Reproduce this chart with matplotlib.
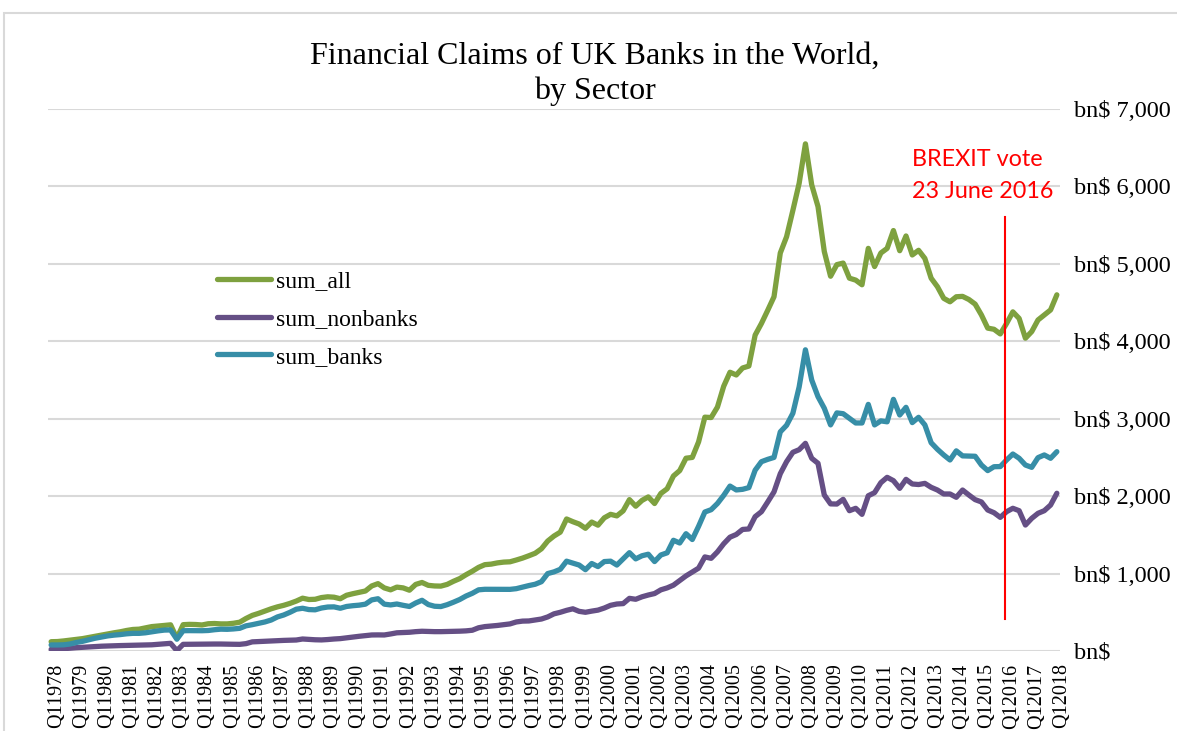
import matplotlib
matplotlib.use("Agg")
import matplotlib.pyplot as plt
import matplotlib.transforms as mtransforms
from matplotlib.patches import Rectangle
import numpy as np

# ---------------- data (bn$, quarterly Q1 1978 .. Q1 2018) ----------------
years = list(range(1978, 2019))
quarters = [f"Q{q}{y}" for y in range(1978, 2018) for q in (1, 2, 3, 4)] + ["Q12018"]
tick_labels = [f"Q1{y}" for y in years]

sum_all = [
    120, 122, 130, 140,      150, 160, 175, 190,      205, 220, 235, 248,      265, 278, 282, 298,
    315, 322, 330, 338,      165, 340, 344, 342,      336, 352, 355, 350,      350, 358, 372, 420,
    460, 486, 515, 545,      570, 590, 615, 645,      682, 665, 668, 690,      700, 695, 675, 720,
    740, 758, 775, 840,      870, 815, 790, 825,      815, 785, 860, 885,      848, 840, 838, 860,
    900, 935, 985, 1030,     1080, 1115, 1122, 1138,  1148, 1152, 1175, 1200,  1230, 1262, 1320, 1420,
    1485, 1535, 1705, 1670,  1640, 1585, 1665, 1625,  1720, 1765, 1745, 1810,  1955, 1870, 1945, 1990,
    1905, 2035, 2095, 2260,  2330, 2490, 2500, 2700,  3020, 3015, 3150, 3420,  3600, 3565, 3655, 3680,
    4080, 4230, 4400, 4575,  5140, 5350, 5690, 6040,  6550, 6020, 5740, 5160,  4840, 4990, 5010, 4815,
    4790, 4730, 5200, 4965,  5140, 5200, 5430, 5170,  5360, 5115, 5175, 5070,  4815, 4705, 4555, 4510,
    4575, 4580, 4540, 4480,  4340, 4170, 4155, 4095,  4230, 4380, 4295, 4040,  4125, 4275, 4340, 4405,
    4600,
]

sum_nonbanks = [
    22, 25, 30, 36,          43, 48, 52, 57,          62, 65, 68, 70,          72, 74, 76, 77,
    80, 86, 92, 99,          5, 86, 87, 88,           88, 89, 90, 90,          88, 87, 86, 95,
    118, 122, 126, 130,      134, 137, 140, 142,      155, 150, 145, 143,      148, 155, 160, 170,
    180, 190, 198, 207,      208, 207, 220, 235,      238, 242, 250, 255,      252, 250, 250, 252,
    254, 256, 260, 268,      300, 315, 322, 330,      340, 350, 375, 386,      388, 400, 413, 440,
    480, 500, 525, 545,      512, 500, 515, 528,      555, 590, 607, 612,      680, 668, 700, 723,
    742, 790, 815, 850,      910, 970, 1020, 1070,    1215, 1197, 1280, 1385,  1470, 1505, 1570, 1576,
    1735, 1799, 1925, 2055,  2290, 2445, 2566, 2600,  2682, 2489, 2424, 2015,  1900, 1898, 1959, 1812,
    1843, 1765, 2005, 2045,  2174, 2243, 2200, 2101,  2217, 2157, 2150, 2165,  2114, 2079, 2028, 2028,
    1985, 2079, 2015, 1955,  1925, 1821, 1786, 1726,  1799, 1843, 1812, 1627,  1713, 1778, 1812, 1885,
    2037,
]

sum_banks = [
    78, 78, 80, 90,          110, 125, 145, 165,      180, 195, 205, 212,      222, 228, 228, 235,
    248, 260, 270, 272,      152, 262, 263, 262,      262, 265, 275, 282,      280, 285, 293, 325,
    340, 358, 375, 400,      440, 465, 500, 540,      552, 535, 532, 555,      568, 570, 552, 575,
    585, 592, 605, 660,      675, 605, 595, 607,      590, 575, 620, 655,      600, 578, 574, 598,
    630, 665, 710, 745,      790, 797, 797, 798,      798, 796, 805, 825,      845, 862, 895, 1000,
    1022, 1055, 1160, 1135,  1110, 1050, 1130, 1090,  1155, 1160, 1110, 1190,  1270, 1190, 1230, 1250,
    1155, 1240, 1268, 1430,  1395, 1515, 1440, 1610,  1795, 1825, 1905, 2010,  2130, 2080, 2088, 2110,
    2335, 2445, 2475, 2500,  2830, 2915, 3070, 3410,  3890, 3500, 3285, 3135,  2920, 3075, 3065, 3005,
    2945, 2945, 3185, 2920,  2972, 2960, 3250, 3048,  3147, 2950, 3018, 2920,  2690, 2605, 2532, 2467,
    2585, 2520, 2518, 2515,  2402, 2330, 2380, 2382,  2467, 2544, 2489, 2402,  2372, 2497, 2532, 2489,
    2574,
]

series_names = ["sum_all", "sum_nonbanks", "sum_banks"]
series_colors = ["#7EA13F", "#654F85", "#378EA7"]
yticks = [0, 1000, 2000, 3000, 4000, 5000, 6000, 7000]
brexit_pos = 151.8
brexit_span = (415, 5610)

# ---------------- figure ----------------
W, H, DPI = 1177, 731, 100
fig = plt.figure(figsize=(W / DPI, H / DPI), dpi=DPI)
fig.patch.set_facecolor("white")

# chart-area border (clipped at right/bottom like the screenshot)
fig.add_artist(Rectangle((4 / W, -0.1), 1.2, (H - 13) / H + 0.1, transform=fig.transFigure,
                         fill=False, edgecolor="#D9D9D9", lw=1.5))

ax = fig.add_axes([48 / W, (H - 651) / H, 1012 / W, 542 / H])
x = np.arange(len(quarters))
for vals, name, col in zip([sum_all, sum_nonbanks, sum_banks], series_names, series_colors):
    ax.plot(x, vals, color=col, lw=3.8, label=name, solid_capstyle="round",
            solid_joinstyle="round", zorder=3)

ax.set_xlim(-0.5, len(quarters) - 0.5)
ax.set_ylim(0, 7000)
ax.set_yticks(yticks)
ax.set_yticklabels(["bn$"] + [f"bn$ {v:,}" for v in yticks[1:]])
ax.yaxis.tick_right()
ax.tick_params(axis="y", length=0, pad=10, labelsize=17.5)
for lab in ax.get_yticklabels():
    lab.set_fontfamily("Liberation Serif")
ax.grid(axis="y", color="#D9D9D9", lw=1.5, zorder=0)
ax.set_axisbelow(True)
for s in ax.spines.values():
    s.set_visible(False)

tick_idx = [quarters.index(t) for t in tick_labels]
ax.set_xticks(tick_idx)
ax.set_xticklabels(tick_labels, rotation=90, fontsize=14.5, fontfamily="Liberation Serif", va="top")
ax.tick_params(axis="x", length=0, pad=9)
offset = mtransforms.ScaledTranslation(5 / DPI, 0, fig.dpi_scale_trans)
for lab in ax.get_xticklabels():
    lab.set_transform(lab.get_transform() + offset)

# Brexit marker
ax.plot([brexit_pos, brexit_pos], list(brexit_span), color="#FF0000", lw=1.5, zorder=4)
fig.text(912 / W, 1 - 160 / H, "BREXIT vote", color="#FF0000", fontsize=16.8,
         fontfamily="Lato", ha="left", va="center")
fig.text(912 / W, 1 - 192 / H, "23 June 2016", color="#FF0000", fontsize=16.8,
         fontfamily="Lato", ha="left", va="center")

# title
fig.text(595 / W, 1 - 56 / H, "Financial Claims of UK Banks in the World,", fontsize=23,
         fontfamily="Liberation Serif", ha="center", va="center")
fig.text(595 / W, 1 - 91 / H, "by Sector", fontsize=23,
         fontfamily="Liberation Serif", ha="center", va="center")

# legend
leg = ax.legend(loc="upper left", bbox_to_anchor=((217 - 48) / 1012, (651 - 271) / 542),
                frameon=False, borderaxespad=0, borderpad=0, handlelength=2.3,
                handletextpad=0.2, labelspacing=0.68,
                prop={"family": "Liberation Serif", "size": 17})

fig.savefig("out.png", dpi=DPI)
